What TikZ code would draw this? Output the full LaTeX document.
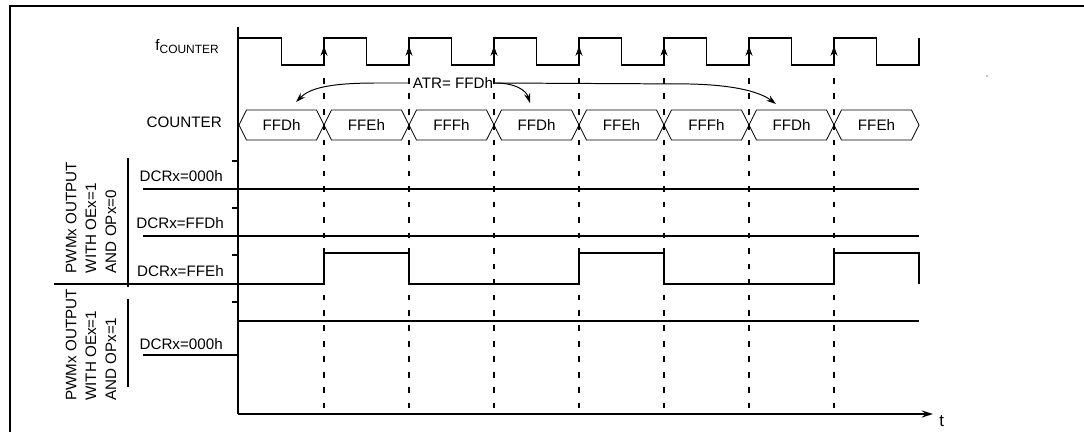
\documentclass[tikz,border=0pt]{standalone}
\usepackage{fontspec}
\setmainfont{Liberation Sans}
\usetikzlibrary{arrows.meta}

\begin{document}
\begin{tikzpicture}[x=0.025cm,y=-0.025cm,
  sig/.style={line width=1.4pt},
  bus/.style={line width=.6pt},
  dsh/.style={line width=1.2pt,dash pattern=on 4pt off 7pt},
  arw/.style={line width=.7pt,-{Stealth[length=7pt,width=4.5pt]}},
  lbl/.style={font=\fontsize{10.8}{14.2}\selectfont,inner sep=0pt}]
\useasboundingbox (0,0) rectangle (1084,432);
\draw[line width=1.6pt] (1084,6)--(10,6)--(10,432);\fill (987,76) circle (.7);
\draw[sig] (238,27)--(238,414);\draw[sig,-{Stealth[length=8pt,width=5pt]}] (238,414)--(933,414);
\node[lbl,anchor=west,font=\fontsize{12}{14}\selectfont] (t) at (939,421) {t};
\draw[sig] (238,38) \foreach \k in {0,...,6}{--({281.5+85*\k},38)--({281.5+85*\k},65)--({324+85*\k},65)--({324+85*\k},38)}
  --(876.5,38)--(876.5,65)--(919,65)--(919,38);
\foreach \k in {0,...,6}{\draw[line width=.7pt,-{Stealth[length=7pt,width=5pt]}] ({324+85*\k},62)--({324+85*\k},46);
  \draw[dsh] ({324+85*\k},78)--({324+85*\k},414);}
\foreach \v [count=\i] in {FFDh,FFEh,FFFh,FFDh,FFEh,FFFh,FFDh,FFEh}{
  \draw[bus] ({239+85*(\i-1)},125)--++(7.5,-15)--++(70,0)--++(7.5,15)--++(-7.5,15)--++(-70,0)--cycle;
  \node[lbl] (cnt\i) at ({281.5+85*(\i-1)},125) {\v};}
\node[lbl] (atr) at (453,83) {ATR= FFDh};
\coordinate (l1) at (296,102);\coordinate (r1) at (530,103);\coordinate (r2) at (776,104);
\draw[arw] ([xshift=-2pt]atr.west)--(377,83) .. controls (330,83) and (310,88) .. (l1);
\draw[arw] ([xshift=1pt]atr.east) .. controls (515,83) and (526,90) .. (r1);
\draw[arw] ([xshift=1pt]atr.east)--(690,84) .. controls (735,85) and (760,92) .. (r2);
\node[lbl,anchor=base east] (fclk) at (219,51) {f\raisebox{-1.5pt}{\fontsize{8.5}{10}\selectfont COUNTER}};
\node[lbl,anchor=base east] (cntlbl) at (222,128) {COUNTER};
\node[lbl,anchor=base east] (dcra) at (223,182) {DCRx=000h};
\node[lbl,anchor=base east] (dcrb) at (224,229) {DCRx=FFDh};
\node[lbl,anchor=base east] (dcrc) at (224,277) {DCRx=FFEh};
\node[lbl,anchor=base east] (dcrd) at (223,349) {DCRx=000h};
\foreach \y in {161,208,255,302}{\draw[sig] (232,\y)--(238,\y);}
\draw[sig] (143,189)--(919,189);\draw[sig] (143,236)--(919,236);
\draw[sig] (54,284)--(324,284)--(324,253)--(409,253)--(409,284)--(579,284)--(579,253)--(664,253)--(664,284)--(834,284)--(834,253)--(919,253)--(919,284);
\draw[sig] (238,321)--(919,321);\draw[sig] (143,355)--(238,355);
\draw[sig] (128,158)--(128,287);\draw[sig] (128,299)--(128,387);
\node[lbl,rotate=90,align=left] (grpa) at (91,217.5) {PWMx OUTPUT\\WITH OEx=1\\AND OPx=0};
\node[lbl,rotate=90,align=left] (grpb) at (91,345) {PWMx OUTPUT\\WITH OEx=1\\AND OPx=1};
\end{tikzpicture}
\end{document}
